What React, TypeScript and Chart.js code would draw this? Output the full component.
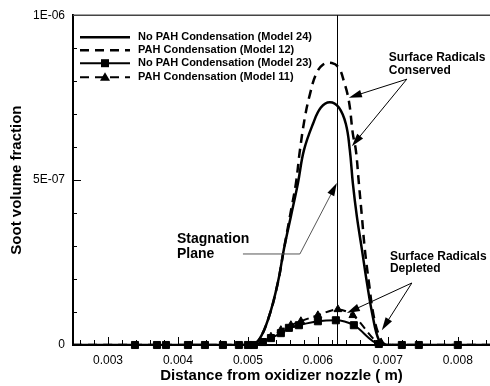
import React, { useEffect, useRef } from 'react';
import { Chart, registerables } from 'chart.js';

Chart.register(...registerables);

const FONT = '"Liberation Sans", Arial, Helvetica, sans-serif';

// ---- data (x in m, y = soot volume fraction) ----
const xModel24 = [0.0025, 0.00504, 0.005157, 0.0053, 0.005429, 0.005514, 0.005614, 0.005714, 0.0058, 0.005929, 0.006043, 0.006171, 0.0063, 0.0064, 0.006457, 0.0065, 0.006557, 0.006629, 0.0067, 0.006786, 0.006871, 0.006957, 0.00846];
const yModel24 = [0, 0, 0.15e-7, 0.85e-7, 1.9e-7, 2.9e-7, 3.9e-7, 4.9e-7, 5.9e-7, 6.7e-7, 7.2e-7, 7.36e-7, 7.2e-7, 6.7e-7, 5.9e-7, 4.9e-7, 3.9e-7, 2.9e-7, 1.9e-7, 0.85e-7, 0.15e-7, 0, 0];

const xModel12 = [0.0025, 0.00504, 0.005157, 0.0053, 0.005429, 0.005514, 0.0056, 0.005686, 0.005743, 0.005814, 0.005886, 0.005971, 0.006071, 0.0062, 0.0063, 0.006371, 0.006443, 0.0065, 0.006543, 0.006586, 0.006629, 0.006671, 0.006729, 0.0068, 0.006886, 0.006986, 0.00846];
const yModel12 = [0, 0, 0.15e-7, 0.85e-7, 1.9e-7, 2.9e-7, 3.9e-7, 4.9e-7, 5.9e-7, 6.9e-7, 7.6e-7, 8.2e-7, 8.5e-7, 8.55e-7, 8.4e-7, 8.0e-7, 7.4e-7, 6.4e-7, 5.9e-7, 4.9e-7, 3.9e-7, 2.9e-7, 1.9e-7, 0.85e-7, 0.24e-7, 0, 0];

const xModel23 = [0.0025, 0.003386, 0.0037, 0.003829, 0.004143, 0.004386, 0.004643, 0.004871, 0.005, 0.005086, 0.005214, 0.005329, 0.005471, 0.005586, 0.005729, 0.006, 0.006257, 0.006514, 0.006871, 0.0072, 0.007443, 0.008, 0.00846];
const yModel23 = [0, 0, 0, 0, 0, 0, 0, 0, 0, 0, 0.09e-7, 0.21e-7, 0.36e-7, 0.52e-7, 0.6e-7, 0.72e-7, 0.75e-7, 0.6e-7, 0.03e-7, 0, 0, 0, 0];
const markModel23 = [false, true, true, true, true, true, true, true, true, true, true, true, true, true, true, true, true, true, true, true, true, true, false];

const xModel11 = [0.0025, 0.00505, 0.005214, 0.005329, 0.005471, 0.005614, 0.005757, 0.006, 0.006286, 0.0065, 0.006914, 0.0072, 0.00846];
const yModel11 = [0, 0, 0.1e-7, 0.25e-7, 0.45e-7, 0.6e-7, 0.72e-7, 0.9e-7, 1.08e-7, 0.9e-7, 0.03e-7, 0, 0];
const markModel11 = [false, false, false, true, true, true, true, true, true, true, false, false, false];

const seriesNames = [
  'No PAH Condensation (Model 24)',
  'PAH Condensation (Model 12)',
  'No PAH Condensation (Model 23)',
  'PAH Condensation (Model 11)',
];

const xTickLabels = ['0.003', '0.004', '0.005', '0.006', '0.007', '0.008'];
const yTickLabels = ['0', '5E-07', '1E-06'];
const yTickValues = [0, 5e-7, 1e-6];

const stagnationX = 0.006271;

const toPts = (xs: number[], ys: number[]) => xs.map((x, i) => ({ x, y: ys[i] }));

function drawArrow(ctx: CanvasRenderingContext2D, x0: number, y0: number, x1: number, y1: number, color = '#000') {
  const ang = Math.atan2(y1 - y0, x1 - x0);
  const L = 13, W = 3.8;
  const c = Math.cos(ang), s = Math.sin(ang);
  ctx.strokeStyle = color;
  ctx.lineWidth = 1;
  ctx.setLineDash([]);
  ctx.beginPath();
  ctx.moveTo(x0, y0);
  ctx.lineTo(x1 - L * 0.5 * c, y1 - L * 0.5 * s);
  ctx.stroke();
  ctx.fillStyle = '#000';
  ctx.beginPath();
  ctx.moveTo(x1, y1);
  ctx.lineTo(x1 - L * c + W * s, y1 - L * s - W * c);
  ctx.lineTo(x1 - L * c - W * s, y1 - L * s + W * c);
  ctx.closePath();
  ctx.fill();
}

const overlay = {
  id: 'overlay',
  afterDraw(chart: any) {
    const { ctx, chartArea: ca, scales } = chart;
    const xs = scales.x, ys = scales.y;
    const X = (v: number) => xs.getPixelForValue(v);
    const Y = (v: number) => ys.getPixelForValue(v);
    ctx.save();

    // top frame line
    ctx.strokeStyle = '#444';
    ctx.lineWidth = 1.5;
    ctx.beginPath();
    ctx.moveTo(ca.left, ca.top);
    ctx.lineTo(ca.right, ca.top);
    ctx.stroke();

    // inner ticks
    ctx.strokeStyle = '#000';
    ctx.lineWidth = 1;
    for (let k = 13; k <= 42; k++) {
      const v = k * 0.0002;
      const px = Math.round(X(v)) + 0.5;
      const major = k % 5 === 0;
      ctx.beginPath();
      ctx.moveTo(px, ca.bottom);
      ctx.lineTo(px, ca.bottom - (major ? 8 : 5));
      ctx.stroke();
    }
    for (let k = 1; k <= 9; k++) {
      const v = k * 1e-7;
      const py = Math.round(Y(v)) + 0.5;
      const major = k === 5;
      ctx.beginPath();
      ctx.moveTo(ca.left, py);
      ctx.lineTo(ca.left + (major ? 8 : 4), py);
      ctx.stroke();
    }

    // stagnation plane
    ctx.beginPath();
    const sx = Math.round(X(stagnationX)) + 0.5;
    ctx.moveTo(sx, ca.top);
    ctx.lineTo(sx, ca.bottom);
    ctx.stroke();

    // legend
    const lx0 = ca.left + 7, lx1 = ca.left + 57, tx = ca.left + 65;
    const rows = [ca.top + 22, ca.top + 35, ca.top + 48, ca.top + 62];
    ctx.font = `bold 11px ${FONT}`;
    ctx.textBaseline = 'middle';
    ctx.textAlign = 'left';
    rows.forEach((ry, i) => {
      ctx.strokeStyle = '#000';
      ctx.lineWidth = i < 2 ? 2.5 : 2;
      ctx.setLineDash(i === 1 || i === 3 ? [9, 6] : []);
      ctx.beginPath();
      ctx.moveTo(lx0, ry);
      ctx.lineTo(lx1, ry);
      ctx.stroke();
      ctx.setLineDash([]);
      const mx = (lx0 + lx1) / 2;
      ctx.fillStyle = '#000';
      if (i === 2) ctx.fillRect(mx - 4, ry - 4, 8, 8);
      if (i === 3) {
        ctx.beginPath();
        ctx.moveTo(mx, ry - 5);
        ctx.lineTo(mx + 5, ry + 3.5);
        ctx.lineTo(mx - 5, ry + 3.5);
        ctx.closePath();
        ctx.fill();
      }
      ctx.fillText(seriesNames[i], tx, ry);
    });

    // annotations
    ctx.fillStyle = '#000';
    ctx.font = `bold 12px ${FONT}`;
    ctx.fillText('Surface Radicals', X(0.007014), Y(8.70e-7));
    ctx.fillText('Conserved', X(0.007014), Y(8.33e-7));
    drawArrow(ctx, X(0.007271), Y(8.06e-7), X(0.006443), Y(7.5e-7));
    drawArrow(ctx, X(0.007271), Y(8.06e-7), X(0.006486), Y(6.03e-7));

    ctx.fillText('Surface Radicals', X(0.007029), Y(2.67e-7));
    ctx.fillText('Depleted', X(0.007029), Y(2.30e-7));
    drawArrow(ctx, X(0.007343), Y(1.88e-7), X(0.006414), Y(0.97e-7));
    drawArrow(ctx, X(0.007343), Y(1.88e-7), X(0.006914), Y(0.45e-7));

    ctx.font = `bold 14px ${FONT}`;
    ctx.fillText('Stagnation', X(0.003986), Y(3.21e-7));
    ctx.fillText('Plane', X(0.003986), Y(2.76e-7));
    ctx.strokeStyle = '#555';
    ctx.lineWidth = 1;
    ctx.beginPath();
    ctx.moveTo(X(0.004929), Y(2.76e-7));
    ctx.lineTo(X(0.005743), Y(2.76e-7));
    ctx.stroke();
    drawArrow(ctx, X(0.005743), Y(2.76e-7), X(0.006271), Y(4.91e-7), '#555');

    ctx.restore();
  },
};

export default function App() {
  const ref = useRef<HTMLCanvasElement>(null);
  useEffect(() => {
    const chart = new Chart(ref.current as HTMLCanvasElement, {
      type: 'line',
      data: {
        datasets: [
          {
            label: seriesNames[0],
            data: toPts(xModel24, yModel24),
            borderColor: '#000',
            borderWidth: 2.5,
            pointRadius: 0,
            tension: 0.4,
          },
          {
            label: seriesNames[1],
            data: toPts(xModel12, yModel12),
            borderColor: '#000',
            borderWidth: 2.5,
            borderDash: [9, 6],
            pointRadius: 0,
            tension: 0.4,
          },
          {
            label: seriesNames[2],
            data: toPts(xModel23, yModel23),
            borderColor: '#000',
            borderWidth: 2,
            pointStyle: 'rect',
            pointRadius: (c: any) => (markModel23[c.dataIndex] ? 5 : 0),
            pointBackgroundColor: '#000',
            pointBorderColor: '#000',
            pointBorderWidth: 1,
            cubicInterpolationMode: 'monotone',
            clip: false,
          },
          {
            label: seriesNames[3],
            data: toPts(xModel11, yModel11),
            borderColor: '#000',
            borderWidth: 2,
            borderDash: [8, 5],
            pointStyle: 'triangle',
            pointRadius: (c: any) => (markModel11[c.dataIndex] ? 4.5 : 0),
            pointBackgroundColor: '#000',
            pointBorderColor: '#000',
            pointBorderWidth: 1,
            cubicInterpolationMode: 'monotone',
            clip: false,
          },
        ],
      },
      options: {
        animation: false,
        responsive: false,
        devicePixelRatio: 1,
        layout: { padding: { top: 15, left: 0, right: 0, bottom: 0 } },
        plugins: { legend: { display: false }, tooltip: { enabled: false } },
        scales: {
          x: {
            type: 'linear',
            min: 0.0025,
            max: 0.00846,
            afterFit: (s: any) => { s.height = 41; },
            grid: { display: false, drawTicks: false },
            border: { display: true, color: '#000', width: 2 },
            ticks: {
              stepSize: 0.001,
              includeBounds: false,
              autoSkip: false,
              maxRotation: 0,
              padding: 8,
              color: '#000',
              font: { family: FONT, size: 12 },
              callback: (v: any) => {
                const t = (+v).toFixed(3);
                return xTickLabels.includes(t) && Math.abs(+v * 1000 - Math.round(+v * 1000)) < 1e-6 ? t : '';
              },
            },
            title: {
              display: true,
              text: 'Distance from oxidizer nozzle ( m)',
              color: '#000',
              font: { family: FONT, size: 15, weight: 'bold' },
              padding: { top: 0, bottom: 1 },
            },
          },
          y: {
            type: 'linear',
            min: 0,
            max: 1e-6,
            afterFit: (s: any) => { s.width = 73; },
            grid: { display: false, drawTicks: false },
            border: { display: true, color: '#000', width: 2 },
            ticks: {
              stepSize: 1e-7,
              autoSkip: false,
              padding: 8,
              color: '#000',
              font: { family: FONT, size: 12 },
              callback: (v: any) => {
                const i = yTickValues.findIndex((t) => Math.abs(t - +v) < 1e-12);
                return i >= 0 ? yTickLabels[i] : '';
              },
            },
            title: {
              display: true,
              text: 'Soot volume fraction',
              color: '#000',
              font: { family: FONT, size: 15, weight: 'bold' },
              padding: { top: 8, bottom: 0 },
            },
          },
        },
      },
      plugins: [overlay],
    } as any);
    return () => chart.destroy();
  }, []);
  return (
    <div style={{ position: 'fixed', left: 0, top: 0, width: 490, height: 386, background: '#fff' }}>
      <canvas ref={ref} width={490} height={386} style={{ display: 'block', width: 490, height: 386 }} />
    </div>
  );
}
